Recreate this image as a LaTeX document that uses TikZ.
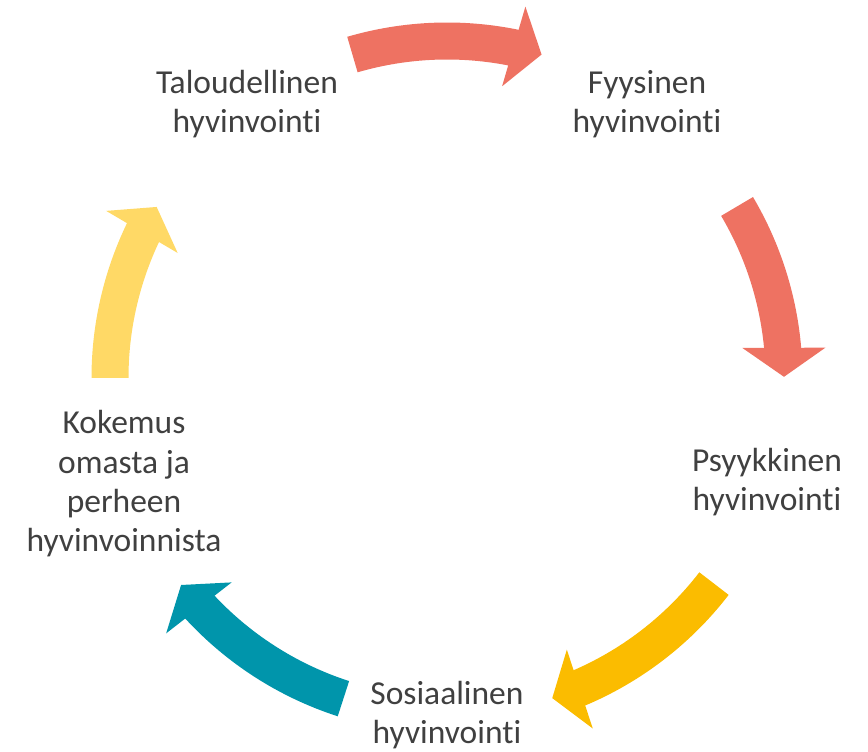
\documentclass[tikz,border=0pt]{standalone}
\usepackage{fontspec}
\setmainfont{Carlito}[Ligatures=NoCommon]
\usepackage{tikz}
\usetikzlibrary{calc}
\usepackage{xcolor}
\definecolor{Salmon}{HTML}{EE7262}
\definecolor{Amber}{HTML}{FBBC00}
\definecolor{Teal}{HTML}{0095AB}
\definecolor{Butter}{HTML}{FFD966}
\definecolor{TextGray}{HTML}{404040}
% curved block arrow on the ring: colour, tail angle, tip angle
\newcommand{\CycleArrow}[3]{%
  \fill[#1] ($(c)+(#2:355.5)$) arc[start angle=#2,end angle=#3+4.5,radius=355.5]
    -- ($(c)+(#3+4.5:318.5)$) arc[start angle=#3+4.5,end angle=#2,radius=318.5] -- cycle;%
  \fill[#1] ($(c)+(#3:337)$) -- ($(c)+(#3:337)+(#3+90:29)+(#3:41.5)$)
    -- ($(c)+(#3:337)+(#3+90:29)+(#3:-41.5)$) -- cycle;%
}

\begin{document}
\begin{tikzpicture}[x=1pt,y=1pt,
  txt/.style={align=center,text=TextGray,inner sep=0pt,font=\fontsize{33.5}{39.3}\selectfont}]
\useasboundingbox (0,0) rectangle (868,752);
\coordinate (c) at (447,374);
\CycleArrow{Salmon}{106.3}{73.7}
\CycleArrow{Salmon}{30.6}{0.2}
\CycleArrow{Amber}{-37.6}{-71.8}
\CycleArrow{Teal}{-107.9}{-142.1}
\CycleArrow{Butter}{180}{149.5}
\node[txt] (talous) at (247,648) {Taloudellinen\\hyvinvointi};
\node[txt] (fyys) at (647,648) {Fyysinen\\hyvinvointi};
\node[txt] (psyyk) at (767,270) {Psyykkinen\\hyvinvointi};
\node[txt] (sosi) at (447,37) {Sosiaalinen\\hyvinvointi};
\node[txt] (kokemus) at (124,268) {Kokemus\\omasta ja\\perheen\\hyvinvoinnista};
\end{tikzpicture}
\end{document}
